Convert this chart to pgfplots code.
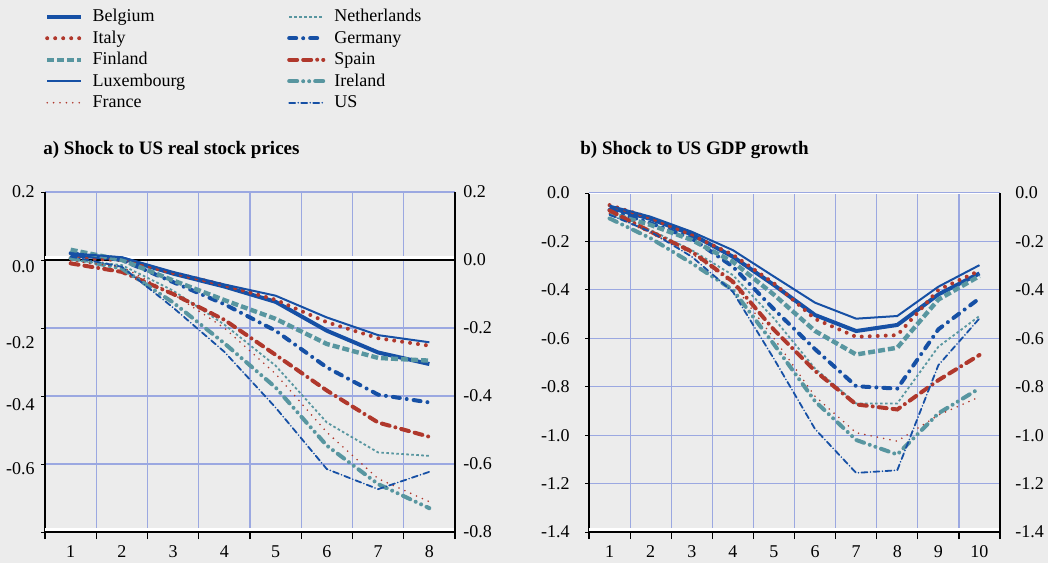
\documentclass[border=0pt]{standalone}
\usepackage{fontspec}
\setmainfont{Liberation Serif}
\usepackage{pgfplots}
\pgfplotsset{compat=1.18}
\usepackage{pgfplotstable}

\definecolor{bg}{RGB}{236,236,236}
\definecolor{cblue}{RGB}{22,80,165}
\definecolor{cred}{RGB}{176,56,44}
\definecolor{cteal}{RGB}{88,150,160}
\definecolor{cgrid}{RGB}{155,168,225}
\newcommand{\tickfont}{\fontsize{9}{10}\selectfont}

\tikzset{
 sBel/.style={cblue, line width=2pt},
 sIta/.style={cred, line width=2pt, line cap=round, dash pattern=on 0pt off 4pt},
 sFin/.style={cteal, line width=2.2pt, dash pattern=on 3.5pt off 1.5pt},
 sLux/.style={cblue, line width=1pt},
 sFra/.style={cred, line width=0.9pt, line cap=round, dash pattern=on 0pt off 3.2pt},
 sNet/.style={cteal, line width=0.9pt, dash pattern=on 1.3pt off 1.2pt},
 sGer/.style={cblue, line width=2pt, line cap=round, dash pattern=on 3.5pt off 3.5pt on 0pt off 3.5pt},
 sSpa/.style={cred, line width=2pt, line cap=round, dash pattern=on 4pt off 3pt on 4pt off 3pt on 0pt off 3pt},
 sIre/.style={cteal, line width=2pt, line cap=round, dash pattern=on 4pt off 3pt on 0pt off 3pt on 0pt off 3pt},
 sUS/.style={cblue, line width=0.9pt, line cap=round, dash pattern=on 3pt off 1.5pt on 0pt off 1.5pt},
}

\pgfplotsset{
 panel/.style={scale only axis, anchor=south west,
  axis background/.style={fill=bg},
  axis x line*=bottom, axis y line*=left,
  axis line style={black, line width=0.6pt},
  tick align=outside, major tick length=2pt, minor tick length=3.5pt,
  major x tick style={draw=none},
  minor x tick style={black, line width=0.6pt},
  ytick style={black, line width=0.5pt},
  xminorgrids, ymajorgrids,
  minor grid style={cgrid, line width=0.6pt},
  major grid style={cgrid, line width=0.6pt},
  no markers,
  xticklabel style={inner sep=0pt, yshift=-4.5pt, font=\tickfont},
  yticklabels={},
 },
 lablft/.style={scale only axis, anchor=south west,
  axis x line=none, axis y line*=left, y axis line style={draw=none},
  major tick length=0pt,
  yticklabel style={anchor=east, inner sep=0pt, xshift=-5pt, font=\tickfont},
 },
 labrgt/.style={scale only axis, anchor=south west,
  axis x line=none, axis y line*=right, y axis line style={black, line width=0.6pt},
  major tick length=0pt,
  yticklabel style={anchor=west, inner sep=0pt, xshift=4pt, font=\tickfont},
 },
}

\pgfplotstableread{
x Bel Lux Ita Fin Ger Net Spa Fra Ire US
1 0.013 0.020 0.005 0.030 0.020 0.000 -0.010 -0.003 0.005 0.010
2 0.005 0.008 0.000 0.000 0.000 -0.015 -0.035 -0.020 -0.025 -0.020
3 -0.040 -0.035 -0.038 -0.060 -0.065 -0.090 -0.100 -0.100 -0.125 -0.140
4 -0.078 -0.072 -0.074 -0.118 -0.130 -0.190 -0.176 -0.200 -0.245 -0.270
5 -0.123 -0.105 -0.117 -0.173 -0.208 -0.311 -0.279 -0.335 -0.375 -0.434
6 -0.208 -0.169 -0.183 -0.247 -0.316 -0.478 -0.384 -0.507 -0.546 -0.615
7 -0.272 -0.221 -0.230 -0.288 -0.396 -0.566 -0.478 -0.643 -0.659 -0.674
8 -0.306 -0.242 -0.252 -0.296 -0.419 -0.576 -0.520 -0.711 -0.730 -0.623
}\stock

\pgfplotstableread{
x Bel Lux Ita Fin Ger Net Spa Fra Ire US
1 -0.060 -0.052 -0.050 -0.084 -0.070 -0.090 -0.072 -0.085 -0.105 -0.090
2 -0.107 -0.098 -0.103 -0.132 -0.125 -0.153 -0.160 -0.167 -0.187 -0.160
3 -0.171 -0.160 -0.174 -0.194 -0.187 -0.236 -0.242 -0.250 -0.290 -0.263
4 -0.263 -0.236 -0.255 -0.284 -0.304 -0.339 -0.366 -0.375 -0.400 -0.408
5 -0.380 -0.345 -0.373 -0.420 -0.480 -0.518 -0.565 -0.600 -0.625 -0.685
6 -0.504 -0.453 -0.520 -0.570 -0.645 -0.725 -0.735 -0.840 -0.860 -0.975
7 -0.570 -0.519 -0.594 -0.667 -0.798 -0.869 -0.873 -0.990 -1.020 -1.156
8 -0.545 -0.508 -0.587 -0.639 -0.808 -0.869 -0.894 -1.025 -1.080 -1.145
9 -0.419 -0.387 -0.400 -0.440 -0.563 -0.635 -0.773 -0.917 -0.910 -0.711
10 -0.332 -0.298 -0.321 -0.343 -0.435 -0.508 -0.669 -0.842 -0.807 -0.518
}\gdp

\begin{document}
\begin{tikzpicture}
\fill[bg] (0,0) rectangle (524pt,281.5pt);

% ---------- panel a ----------
\begin{axis}[panel, at={(22.5pt,15.5pt)}, width=205pt, height=170pt,
  xmin=0.5, xmax=8.5, ymin=-0.8, ymax=0.2,
  xtick={1,...,8}, xticklabels={1,2,3,4,5,6,7,8},
  minor xtick={0.5,1.5,...,8.5},
  ytick={-0.8,-0.6,-0.4,-0.2,0,0.2},
  legend columns=2,
  legend style={at={(axis description cs:0,1.542)}, anchor=north west,
    draw=none, fill=none, inner sep=0pt, outer sep=0pt,
    font=\fontsize{9}{10}\selectfont, row sep=1.75pt,
    nodes={inner sep=0pt, text height=7pt, text depth=2pt, anchor=west},
    /tikz/every odd column/.append style={column sep=4.5pt},
    /tikz/every even column/.append style={column sep=51pt}},
]
\draw[white, line width=1.2pt] ([yshift=1.2pt]axis cs:0.5,0) -- ([yshift=1.2pt]axis cs:8.5,0);
\draw[black, line width=0.7pt] (axis cs:0.5,0) -- (axis cs:8.5,0);
\draw[white, line width=1.2pt] ([yshift=1.2pt]axis cs:0.5,-0.8) -- ([yshift=1.2pt]axis cs:8.5,-0.8);
\addplot[sBel] table[x=x,y=Bel]{\stock}; \addlegendentry{Belgium}
\addplot[sNet] table[x=x,y=Net]{\stock}; \addlegendentry{Netherlands}
\addplot[sIta] table[x=x,y=Ita]{\stock}; \addlegendentry{Italy}
\addplot[sGer] table[x=x,y=Ger]{\stock}; \addlegendentry{Germany}
\addplot[sFin] table[x=x,y=Fin]{\stock}; \addlegendentry{Finland}
\addplot[sSpa] table[x=x,y=Spa]{\stock}; \addlegendentry{Spain}
\addplot[sLux] table[x=x,y=Lux]{\stock}; \addlegendentry{Luxembourg}
\addplot[sIre] table[x=x,y=Ire]{\stock}; \addlegendentry{Ireland}
\addplot[sFra] table[x=x,y=Fra]{\stock}; \addlegendentry{France}
\addplot[sUS]  table[x=x,y=US]{\stock};  \addlegendentry{US}
\end{axis}
\begin{axis}[lablft, at={(22.5pt,15.5pt)}, width=205pt, height=170pt,
  xmin=0.5, xmax=8.5, ymin=-0.8, ymax=0.2,
  ytick={0.2,-0.0206,-0.2441,-0.4265,-0.6147,-0.803},
  yticklabels={0.2,0.0,-0.2,-0.4,-0.6,-0.8}]
\end{axis}
\begin{axis}[labrgt, at={(22.5pt,15.5pt)}, width=205pt, height=170pt,
  xmin=0.5, xmax=8.5, ymin=-0.8, ymax=0.2,
  ytick={-0.8,-0.6,-0.4,-0.2,0,0.2},
  yticklabels={-0.8,-0.6,-0.4,-0.2,0.0,0.2}]
\end{axis}

% ---------- panel b ----------
\begin{axis}[panel, at={(294.5pt,15.5pt)}, width=205.5pt, height=169.5pt,
  xmin=0.5, xmax=10.5, ymin=-1.4, ymax=0,
  xtick={1,...,10}, xticklabels={1,2,3,4,5,6,7,8,9,10},
  minor xtick={0.5,1.5,...,10.5},
  ytick={-1.4,-1.2,-1.0,-0.8,-0.6,-0.4,-0.2,0},
]
\draw[white, line width=1.4pt] (axis cs:0.5,0) -- (axis cs:10.5,0);
\draw[white, line width=1.2pt] ([yshift=1.2pt]axis cs:0.5,-1.4) -- ([yshift=1.2pt]axis cs:10.5,-1.4);
\addplot[sBel] table[x=x,y=Bel]{\gdp};
\addplot[sNet] table[x=x,y=Net]{\gdp};
\addplot[sIta] table[x=x,y=Ita]{\gdp};
\addplot[sGer] table[x=x,y=Ger]{\gdp};
\addplot[sFin] table[x=x,y=Fin]{\gdp};
\addplot[sSpa] table[x=x,y=Spa]{\gdp};
\addplot[sLux] table[x=x,y=Lux]{\gdp};
\addplot[sIre] table[x=x,y=Ire]{\gdp};
\addplot[sFra] table[x=x,y=Fra]{\gdp};
\addplot[sUS]  table[x=x,y=US]{\gdp};
\end{axis}
\begin{axis}[lablft, at={(294.5pt,15.5pt)}, width=205.5pt, height=169.5pt,
  xmin=0.5, xmax=10.5, ymin=-1.4, ymax=0,
  ytick={-1.4,-1.2,-1.0,-0.8,-0.6,-0.4,-0.2,0},
  yticklabels={-1.4,-1.2,-1.0,-0.8,-0.6,-0.4,-0.2,0.0},
  yticklabel style={xshift=-4.5pt}]
\end{axis}
\begin{axis}[labrgt, at={(294.5pt,15.5pt)}, width=205.5pt, height=169.5pt,
  xmin=0.5, xmax=10.5, ymin=-1.4, ymax=0,
  ytick={-1.4,-1.2,-1.0,-0.8,-0.6,-0.4,-0.2,0},
  yticklabels={-1.4,-1.2,-1.0,-0.8,-0.6,-0.4,-0.2,0.0},
  yticklabel style={xshift=3.5pt}]
\end{axis}

% ---------- titles ----------
\node[anchor=west, inner sep=0pt] at (21.5pt,206.5pt)
  {\fontsize{9.5}{11}\selectfont\bfseries a) Shock to US real stock prices};
\node[anchor=west, inner sep=0pt] at (290pt,206.5pt)
  {\fontsize{9.5}{11}\selectfont\bfseries b) Shock to US GDP growth};
\end{tikzpicture}
\end{document}
